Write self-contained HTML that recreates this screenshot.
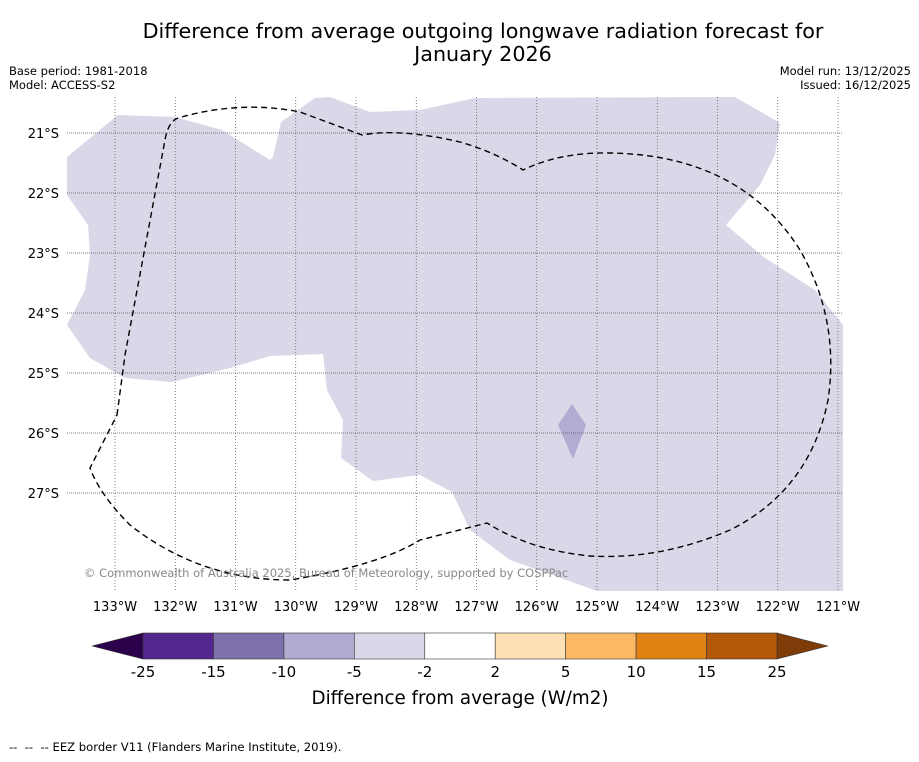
<!DOCTYPE html>
<html><head><meta charset="utf-8"><style>
body{margin:0;background:#fff;font-family:"DejaVu Sans","Liberation Sans",sans-serif;}
svg text{font-family:"DejaVu Sans","Liberation Sans",sans-serif;}
</style></head><body>
<svg width="919" height="758" viewBox="0 0 919 758">
<text x="483" y="38" text-anchor="middle" font-size="20.7">Difference from average outgoing longwave radiation forecast for</text>
<text x="483" y="61" text-anchor="middle" font-size="20.7">January 2026</text>
<text x="9" y="75" font-size="11.5">Base period: 1981-2018</text>
<text x="9" y="89" font-size="11.5">Model: ACCESS-S2</text>
<text x="911" y="75" font-size="11.5" text-anchor="end">Model run: 13/12/2025</text>
<text x="911" y="89" font-size="11.5" text-anchor="end">Issued: 16/12/2025</text>
<polygon fill="#d8d8e9" points="67,157 118,115 175,117 222,130 270,160 273,157 281,122 315,98 330,97 370,112 420,110 475,98 735,97 780,123 775,155 760,185 726,225 765,258 815,290 843,325 843,591 597,591 510,560 470,530 452,492 420,475 373,481 341,458 343,420 327,390 323,354 270,356 230,368 172,382 125,378 90,358 67,325 85,290 90,255 88,225 67,195"/>
<polygon fill="#b2abd2" points="572,404 586,425 573,459 558,425"/>
<g id="grid"></g>
<path fill="none" stroke="#000" stroke-width="1.4" stroke-dasharray="6,4"
 d="M117,415 L125,355 L165,140 Q168,122 178,118 Q240,100 300,112 L362,135 Q400,128 460,142 Q495,152 523,170 Q560,152 610,153 Q740,155 800,250 Q840,320 828,400 Q810,490 730,530 Q660,560 590,556 Q530,550 487,523 L420,540 Q380,565 290,580 Q200,580 130,525 Q100,495 90,468 L117,415 Z"/>
<text x="84" y="577" font-size="11.5" fill="#888">© Commonwealth of Australia 2025, Bureau of Meteorology, supported by COSPPac</text>
<g id="cbar"></g>
<text x="460" y="704" text-anchor="middle" font-size="18.3">Difference from average (W/m2)</text>
<text x="9" y="751" font-size="11.6">--&#160;&#160;--&#160;&#160;-- EEZ border V11 (Flanders Marine Institute, 2019).</text>
</svg>
<script>
const lonTicks=[133,132,131,130,129,128,127,126,125,124,123,122,121];
const latTicks=[21,22,23,24,25,26,27];
const cbarBounds=["-25","-15","-10","-5","-2","2","5","10","15","25"];
const cbarColors=["#54278f","#7e70ab","#b0a9d0","#d8d8e9","#ffffff","#fee0b6","#fdb863","#e08214","#b35806"];
const NS="http://www.w3.org/2000/svg";
const xLon=l=>115+(133-l)*60.25;
const yLat=l=>133+(l-21)*60;
const g=document.getElementById('grid');
function mk(t,a,p){const e=document.createElementNS(NS,t);for(const k in a)e.setAttribute(k,a[k]);p.appendChild(e);return e;}
lonTicks.forEach(l=>{
 const x=xLon(l);
 const ln=mk('line',{x1:x,x2:x,y1:97,y2:591,stroke:'#555','stroke-width':0.7,'stroke-dasharray':'1,2'},g);
 
 
 const t=mk('text',{x:x,y:611,'text-anchor':'middle','font-size':13},g);t.textContent=l+'°W';
 
 
});
latTicks.forEach(l=>{
 const y=yLat(l);
 const ln=mk('line',{x1:67,x2:843,y1:y,y2:y,stroke:'#555','stroke-width':0.7,'stroke-dasharray':'1,1'},g);
 
 
 const t=mk('text',{x:59,y:y+5,'text-anchor':'end','font-size':13},g);t.textContent=l+'°S';
 
 
});
const cb=document.getElementById('cbar');
const x0=143,x1=777,yT=633,yB=659,w=(x1-x0)/cbarColors.length;
const lt=mk('polygon',{points:`${x0},${yT} ${x0},${yB} 92,646`,fill:'#2d004b',stroke:'#333','stroke-width':0.6},cb);


const rt=mk('polygon',{points:`${x1},${yT} ${x1},${yB} 828,646`,fill:'#7f3b08',stroke:'#333','stroke-width':0.6},cb);


cbarColors.forEach((c,i)=>{
 const r=mk('rect',{x:x0+i*w,y:yT,width:w,height:yB-yT,fill:c,stroke:'#333','stroke-width':0.6},cb);
 
 
});
cbarBounds.forEach((b,i)=>{
 const t=mk('text',{x:x0+i*w,y:677,'text-anchor':'middle','font-size':15},cb);t.textContent=b;
 
 
});
</script>
</body></html>
